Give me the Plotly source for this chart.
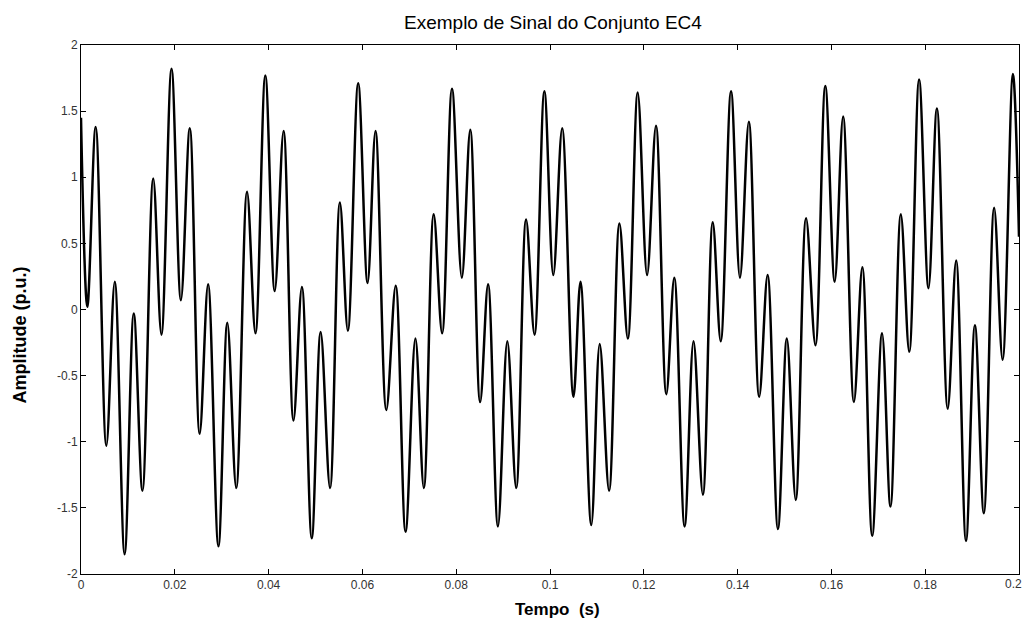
import plotly.graph_objects as go

# Local extrema of the signal (time in s, amplitude in p.u.)
tempo = [0, 0.00135, 0.00313, 0.0054, 0.0072, 0.0093, 0.01125, 0.0131, 0.0154, 0.01715,
         0.0193, 0.0213, 0.0232, 0.0253, 0.0271, 0.0293, 0.0312,
         0.0331, 0.0354, 0.0372, 0.0393, 0.0413, 0.0432, 0.0453, 0.0471, 0.0492, 0.0511,
         0.0531, 0.0552, 0.0569, 0.0591, 0.0611, 0.0628, 0.0651,
         0.0671, 0.0692, 0.0713, 0.0731, 0.0752, 0.0770, 0.0791, 0.0812, 0.0830, 0.0851,
         0.0868, 0.0889, 0.0909, 0.0928, 0.0949, 0.0967, 0.0988,
         0.1007, 0.1026, 0.1050, 0.1065, 0.1088, 0.1106, 0.1126, 0.1148, 0.1166, 0.1187,
         0.1207, 0.1226, 0.1248, 0.1265, 0.1287, 0.1306, 0.1326,
         0.1347, 0.1364, 0.1386, 0.1405, 0.1424, 0.1446, 0.1464, 0.1486, 0.1505, 0.1524,
         0.1546, 0.1566, 0.1587, 0.1607, 0.1625, 0.1648, 0.1666,
         0.1687, 0.1708, 0.1726, 0.1748, 0.1766, 0.1787, 0.1807, 0.1825, 0.1848, 0.1866,
         0.1887, 0.1906, 0.1925, 0.1947, 0.1965, 0.1987, 0.2]

amplitude = [1.45, 0.02, 1.38, -1.03, 0.21, -1.85, -0.03, -1.37, 0.99, -0.19,
             1.82, 0.07, 1.37, -0.94, 0.19, -1.79, -0.10,
             -1.35, 0.89, -0.18, 1.77, 0.14, 1.35, -0.84, 0.17, -1.73, -0.17,
             -1.35, 0.81, -0.16, 1.71, 0.20, 1.35, -0.76,
             0.18, -1.68, -0.22, -1.35, 0.72, -0.18, 1.67, 0.24, 1.36, -0.70,
             0.19, -1.64, -0.24, -1.35, 0.68, -0.19, 1.65,
             0.26, 1.37, -0.66, 0.21, -1.63, -0.26, -1.37, 0.65, -0.22, 1.64,
             0.26, 1.39, -0.64, 0.24, -1.64, -0.24, -1.40,
             0.66, -0.24, 1.65, 0.24, 1.42, -0.66, 0.26, -1.66, -0.22, -1.44,
             0.69, -0.27, 1.69, 0.21, 1.46, -0.70, 0.32,
             -1.71, -0.18, -1.49, 0.72, -0.32, 1.74, 0.16, 1.52, -0.75, 0.37,
             -1.75, -0.12, -1.54, 0.77, -0.38, 1.78, 0.55]

x_ticks = [0, 0.02, 0.04, 0.06, 0.08, 0.1, 0.12, 0.14, 0.16, 0.18, 0.2]
x_tick_labels = ["0", "0.02", "0.04", "0.06", "0.08", "0.1", "0.12", "0.14", "0.16", "0.18", "0.2"]
y_ticks = [-2, -1.5, -1, -0.5, 0, 0.5, 1, 1.5, 2]
y_tick_labels = ["-2", "-1.5", "-1", "-0.5", "0", "0.5", "1", "1.5", "2"]

titulo = "Exemplo de Sinal do Conjunto EC4"
rotulo_x = "Tempo\u00a0\u00a0(s)"
rotulo_y = "Amplitude (p.u.)"

assert len(tempo) == len(amplitude)

FONT = "Liberation Sans, Arial, sans-serif"
TICK_FONT = dict(family=FONT, size=12, color="#333333")

fig = go.Figure()
fig.add_trace(go.Scatter(
    x=tempo, y=amplitude, mode="lines",
    line=dict(color="black", width=2.5, shape="spline", smoothing=1.0),
    hoverinfo="skip", showlegend=False,
))

axis_common = dict(
    showline=True, linecolor="black", linewidth=1, mirror="ticks",
    ticks="inside", ticklen=5, tickcolor="black", tickwidth=1,
    showgrid=False, zeroline=False, automargin=False,
    tickfont=TICK_FONT,
)

# the last x tick label sits at the right edge of the figure; draw it as an
# annotation anchored to the edge so it stays fully visible
x_text_axis = x_tick_labels[:-1] + [""]

fig.update_layout(
    width=1025, height=620,
    margin=dict(l=81, r=6, t=45, b=46, autoexpand=False),
    paper_bgcolor="white", plot_bgcolor="white",
    font=dict(family=FONT, color="black"),
    xaxis=dict(range=[0, 0.2], tickvals=x_ticks, ticktext=x_text_axis, **axis_common),
    yaxis=dict(range=[-2, 2], tickvals=y_ticks, ticktext=y_tick_labels, **axis_common),
    annotations=[
        dict(text=titulo, xref="paper", yref="paper", x=0.5, xshift=3, y=1, yshift=23,
             showarrow=False, xanchor="center", yanchor="middle",
             font=dict(family=FONT, size=19, color="black")),
        dict(text="<b>" + rotulo_x + "</b>", xref="paper", yref="paper", x=0.5, xshift=7,
             y=0, yshift=-35,
             showarrow=False, xanchor="center", yanchor="middle",
             font=dict(family=FONT, size=17, color="black")),
        dict(text="<b>" + rotulo_y + "</b>", xref="paper", yref="paper", x=0, xshift=-62,
             y=0.5, yshift=-26,
             showarrow=False, xanchor="center", yanchor="middle", textangle=-90,
             font=dict(family=FONT, size=18, color="black")),
        dict(text=x_tick_labels[-1], xref="paper", yref="paper", x=1, xshift=5,
             y=0, yshift=-10, showarrow=False, xanchor="right", yanchor="middle",
             font=TICK_FONT),
    ],
)

fig.write_html("out.html")
